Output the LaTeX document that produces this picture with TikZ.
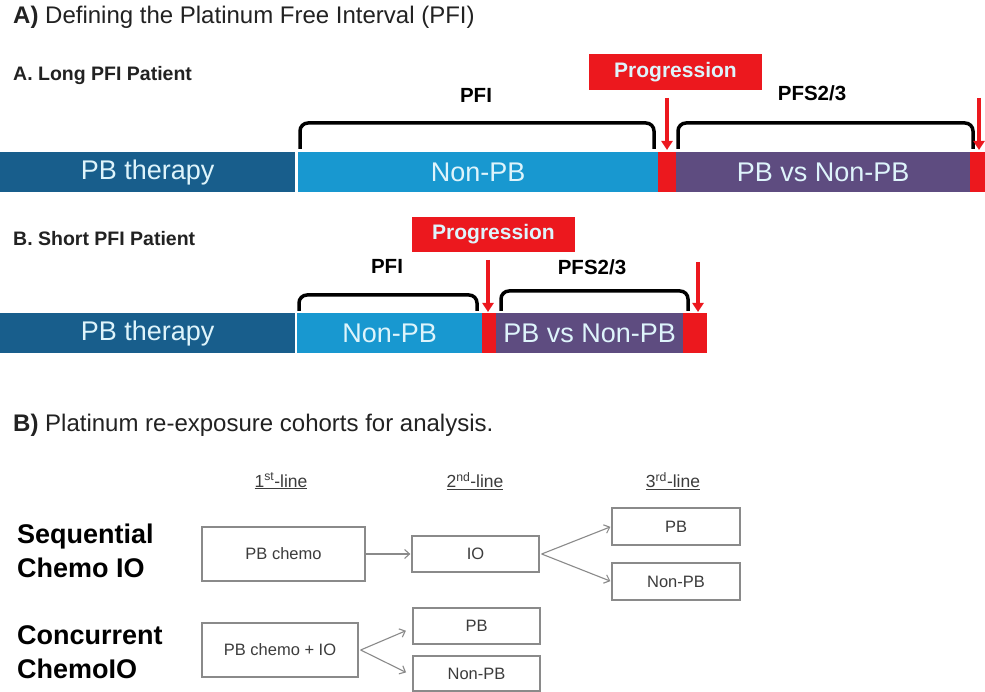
\documentclass[tikz,border=0pt]{standalone}
\usepackage{fontspec}
\setmainfont{Liberation Sans}
\usetikzlibrary{arrows.meta}

\definecolor{pbdark}{RGB}{24,94,140}
\definecolor{pblight}{RGB}{24,152,208}
\definecolor{pbpurple}{RGB}{94,76,128}
\definecolor{progred}{RGB}{236,24,30}
\definecolor{bartext}{RGB}{222,244,251}
\definecolor{headtext}{RGB}{34,34,34}
\definecolor{boxline}{RGB}{138,138,138}
\definecolor{boxtext}{RGB}{60,60,60}

\tikzset{
  bar/.style={rectangle, inner sep=0pt, minimum height=40pt, anchor=north west,
    text=bartext, font=\fontsize{27}{27}\selectfont},
  heading/.style={anchor=west, inner sep=0pt, text=headtext, font=\fontsize{24}{24}\selectfont},
  sublabel/.style={anchor=west, inner sep=0pt, text=headtext, font=\bfseries\fontsize{19.5}{19.5}\selectfont},
  spanlabel/.style={inner sep=0pt, text=black, font=\bfseries\fontsize{20.5}{20.5}\selectfont},
  progbox/.style={rectangle, fill=progred, inner sep=0pt, text=bartext,
    font=\bfseries\fontsize{21}{21}\selectfont},
  brace/.style={line width=3.5pt, rounded corners=8pt, black},
  redarrow/.style={draw=progred, line width=4pt, -{Triangle[width=11pt,length=9pt]}},
  cohort/.style={anchor=west, inner sep=0pt, align=left, text=black,
    font=\bfseries\fontsize{27}{34}\selectfont},
  linehead/.style={inner sep=0pt, text=boxtext, font=\fontsize{17.5}{17.5}\selectfont},
  txbox/.style={rectangle, draw=boxline, line width=1.3pt, inner sep=0pt,
    text=boxtext, font=\fontsize{16.5}{16.5}\selectfont},
  flow/.style={draw=boxline, line width=1.1pt, -{Straight Barb[length=5pt,width=9pt]}, shorten >=1pt},
}

\begin{document}
\begin{tikzpicture}[x=1pt,y=-1pt]
\useasboundingbox[fill=white] (0,0) rectangle (985,692);

% ---------- Part A ----------
\node[heading] (titleA) at (13,17) {\textbf{A)} Defining the Platinum Free Interval (PFI)};

% Long PFI patient
\node[sublabel] (longlbl) at (13,76) {A. Long PFI Patient};
\node[bar, fill=pbdark, minimum width=295pt] (a1) at (0,152) {PB therapy};
\node[bar, fill=pblight, minimum width=360pt] (a2) at (298,152) {Non-PB};
\node[bar, fill=progred, minimum width=18pt] (a3) at (658,152) {};
\node[bar, fill=pbpurple, minimum width=294pt] (a4) at (676,152) {PB vs Non-PB};
\node[bar, fill=progred, minimum width=15pt] (a5) at (970,152) {};

\node[progbox, minimum width=173pt, minimum height=36pt] (progA) at (675.5,72) {Progression};
\node[spanlabel] (pfiA) at (476,95) {PFI};
\node[spanlabel] (pfsA) at (812,93) {PFS2/3};

\draw[brace] (300,149) -- (300,123) -- (654,123) -- (654,149);
\draw[brace] (678,149) -- (678,123) -- (973,123) -- (973,149);

\coordinate (arA1s) at (667,98);
\coordinate (arA1e) at (667,150);
\coordinate (arA2s) at (979,98);
\coordinate (arA2e) at (979,150);
\draw[redarrow] (arA1s) -- (arA1e);
\draw[redarrow] (arA2s) -- (arA2e);

% Short PFI patient
\node[sublabel] (shortlbl) at (13,239) {B. Short PFI Patient};
\node[bar, fill=pbdark, minimum width=295pt] (b1) at (0,313) {PB therapy};
\node[bar, fill=pblight, minimum width=185pt] (b2) at (297,313) {Non-PB};
\node[bar, fill=progred, minimum width=14pt] (b3) at (482,313) {};
\node[bar, fill=pbpurple, minimum width=187pt] (b4) at (496,313) {PB vs Non-PB};
\node[bar, fill=progred, minimum width=24pt] (b5) at (683,313) {};

\node[progbox, minimum width=163pt, minimum height=35pt] (progB) at (493.5,234.5) {Progression};
\node[spanlabel] (pfiB) at (387,266) {PFI};
\node[spanlabel] (pfsB) at (592,267) {PFS2/3};

\draw[brace] (299,311) -- (299,295) -- (477,295) -- (477,311);
\draw[brace] (501,311) -- (501,291) -- (688,291) -- (688,311);

\coordinate (arB1s) at (488,260);
\coordinate (arB1e) at (488,312);
\coordinate (arB2s) at (698,262);
\coordinate (arB2e) at (698,312);
\draw[redarrow] (arB1s) -- (arB1e);
\draw[redarrow] (arB2s) -- (arB2e);

% ---------- Part B ----------
\node[heading] (titleB) at (13,425) {\textbf{B)} Platinum re-exposure cohorts for analysis.};

\node[linehead] (h1) at (281,481) {\underline{1\textsuperscript{st}-line}};
\node[linehead] (h2) at (475,481) {\underline{2\textsuperscript{nd}-line}};
\node[linehead] (h3) at (673,481) {\underline{3\textsuperscript{rd}-line}};

\node[cohort] (seq) at (17,551) {Sequential\\Chemo IO};
\node[cohort] (conc) at (17,652) {Concurrent\\ChemoIO};

\node[txbox, minimum width=163pt, minimum height=54pt] (pbchemo) at (283.5,554) {PB chemo};
\node[txbox, minimum width=127pt, minimum height=36pt] (io) at (475.5,554) {IO};
\node[txbox, minimum width=128pt, minimum height=37pt] (pb3) at (676,526.5) {PB};
\node[txbox, minimum width=128pt, minimum height=37pt] (nonpb3) at (676,581.5) {Non-PB};

\node[txbox, minimum width=156pt, minimum height=54pt] (pbchemoio) at (280,650) {PB chemo + IO};
\node[txbox, minimum width=127pt, minimum height=36pt] (pb2) at (476.5,626) {PB};
\node[txbox, minimum width=127pt, minimum height=35pt] (nonpb2) at (476.5,673.5) {Non-PB};

\draw[flow] (pbchemo.east) -- (io.west);
\draw[flow] ([xshift=2pt]io.east) -- (pb3.west);
\draw[flow] ([xshift=2pt]io.east) -- (nonpb3.west);
\draw[flow, shorten >=7pt] ([xshift=2pt]pbchemoio.east) -- ([yshift=-2pt]pb2.west);
\draw[flow, shorten >=7pt] ([xshift=2pt]pbchemoio.east) -- ([yshift=-2pt]nonpb2.west);
\end{tikzpicture}
\end{document}
